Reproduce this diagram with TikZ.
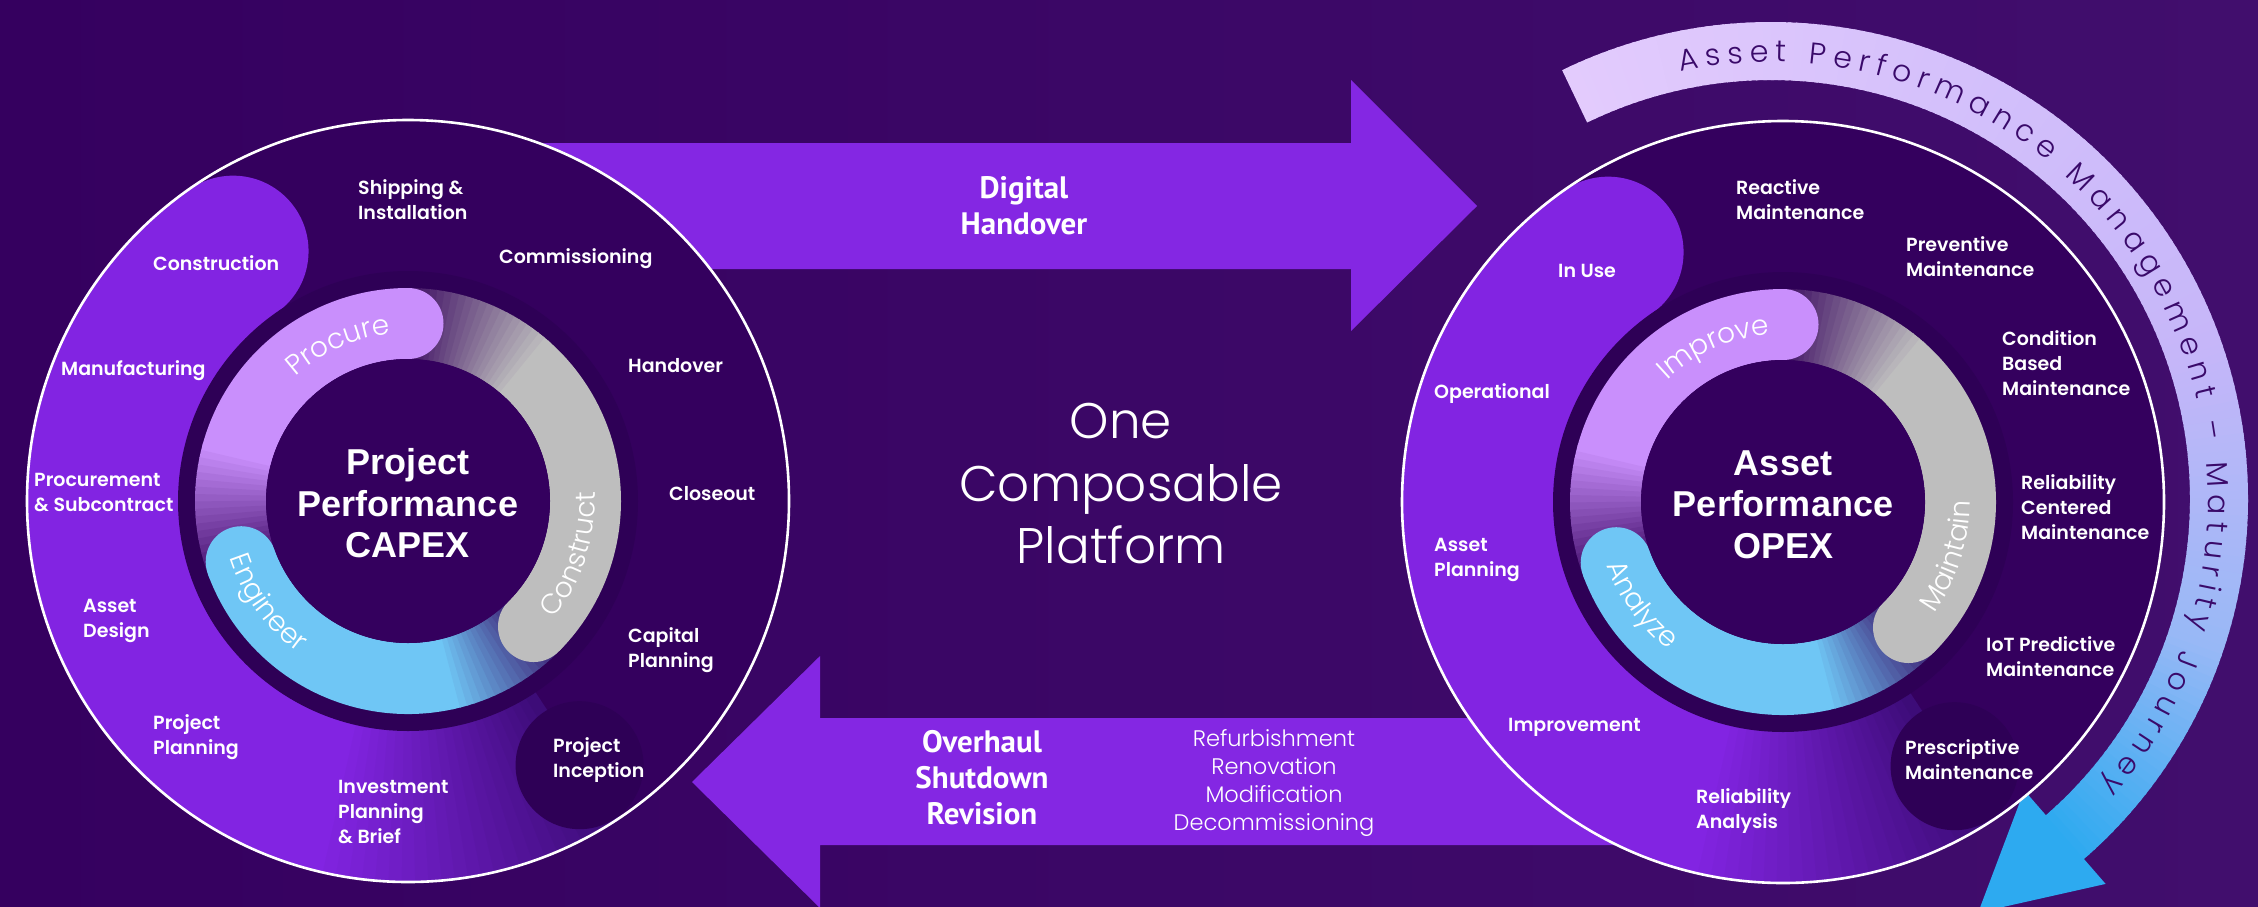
\documentclass[tikz,border=0pt]{standalone}
\usepackage{fontspec}
\usetikzlibrary{decorations.text,calc}
\newfontfamily\popfont{Poppins}
\newfontfamily\poplight{Poppins Light}
\newfontfamily\labfont{Poppins SemiBold}
\newfontfamily\titlefont{Liberation Sans}
\newfontfamily\ptfont{PT Sans}
\definecolor{bgL}{HTML}{35005F}
\definecolor{bgR}{HTML}{410E6D}
\definecolor{cin}{HTML}{34005E}
\definecolor{cband}{HTML}{8224E2}
\definecolor{cbandend}{HTML}{3D0C78}
\definecolor{cdisc}{HTML}{2E0056}
\definecolor{cshadow}{HTML}{2E0056}
\definecolor{cfade}{HTML}{34005C}
\definecolor{clav}{HTML}{C98FFC}
\definecolor{cgray}{HTML}{BEBEBE}
\definecolor{cblue}{HTML}{6FC6F5}
\definecolor{carrow}{HTML}{8427E3}
\definecolor{apmtext}{HTML}{3A0A6A}
\definecolor{apmA}{HTML}{E3CBFD}
\definecolor{apmB}{HTML}{C6B6F9}
\definecolor{apmC}{HTML}{98B8F6}
\definecolor{apmD}{HTML}{2DAAF0}
\newcommand\ringfont{\poplight\fontsize{28}{28}\selectfont\color{white}}
\newcommand\apmfont{\poplight\fontsize{30}{30}\selectfont\color{apmtext}}
\tikzset{
 lab/.style={font=\labfont\fontsize{19}{25}\selectfont, text=white, align=left, anchor=west, inner sep=0pt},
 ttl/.style={font=\titlefont\bfseries\fontsize{36}{41.5}\selectfont, text=white, align=center, inner sep=0pt},
 arrowtxt/.style={font=\ptfont\bfseries\fontsize{31}{36}\selectfont, text=white, align=center, inner sep=0pt},
 thintxt/.style={font=\poplight\fontsize{22.5}{28}\selectfont, text=white, align=center, inner sep=0pt},
 bigtxt/.style={font=\poplight\fontsize{50}{62.5}\selectfont, text=white, align=center, inner sep=0pt},
}
\newcommand\lifecycle[6]{%
\begin{scope}[shift={(#1)}]
 \fill[cin] (0,0) circle[radius=382pt];
 \draw[cband, line width=151pt] (125:305pt) arc[start angle=125, end angle=256, radius=305pt];
 \fill[cband] (125:305pt) circle[radius=75.5pt];
 \foreach \a in {255,257,...,301}{%
  \pgfmathsetmacro\pct{max(0,100-(\a-255)*100/46)}%
  \pgfmathsetmacro\aend{\a+2.6}%
  \draw[line width=151pt, color=cband!\pct!cbandend] (\a:305pt) arc[start angle=\a, end angle=\aend, radius=305pt];}
 \fill[cdisc] (303:315pt) circle[radius=64pt];
 \fill[cshadow] (0,0) circle[radius=230pt];
 \foreach \a in {164,166,...,204}{%
  \pgfmathsetmacro\pct{max(0,100-(\a-164)*2.5)}%
  \pgfmathsetmacro\aend{\a+2.6}%
  \draw[line width=71pt, color=clav!\pct!cfade] (\a:177.5pt) arc[start angle=\a, end angle=\aend, radius=177.5pt];}
 \foreach \a in {48,50,...,92}{%
  \pgfmathsetmacro\pct{max(0,100-(\a-48)*100/44)}%
  \pgfmathsetmacro\aend{\a+2.6}%
  \draw[line width=71pt, color=cgray!\pct!cfade] (\a:177.5pt) arc[start angle=\a, end angle=\aend, radius=177.5pt];}
 \foreach \a in {282,284,...,320}{%
  \pgfmathsetmacro\pct{max(0,100-(\a-282)*100/38)}%
  \pgfmathsetmacro\aend{\a+2.6}%
  \draw[line width=71pt, color=cblue!\pct!cfade] (\a:177.5pt) arc[start angle=\a, end angle=\aend, radius=177.5pt];}
 \draw[clav, line width=71pt] (90:177.5pt) arc[start angle=90, end angle=165, radius=177.5pt];
 \fill[clav] (90:177.5pt) circle[radius=35.5pt];
 \draw[cgray, line width=71pt] (-45:177.5pt) arc[start angle=-45, end angle=49, radius=177.5pt];
 \fill[cgray] (-45:177.5pt) circle[radius=35.5pt];
 \draw[cblue, line width=71pt] (200:177.5pt) arc[start angle=200, end angle=283, radius=177.5pt];
 \fill[cblue] (200:177.5pt) circle[radius=35.5pt];
 \fill[cin] (0,0) circle[radius=142pt];
 \draw[white, line width=2.6pt] (0,0) circle[radius=381pt];
 \path[decorate, decoration={text along path, text={|\ringfont|#4}, text align=center}] (154:168pt) arc[start angle=154, end angle=74, radius=168pt];
 \path[decorate, decoration={text along path, text={|\ringfont|#5}, text align=center}] (-58:187pt) arc[start angle=-58, end angle=22, radius=187pt];
 \path[decorate, decoration={text along path, text={|\ringfont|#6}, text align=center}] (176:187pt) arc[start angle=176, end angle=256, radius=187pt];
 \node[ttl] (#2) at (0,-2.5) {#3};
\end{scope}}
\begin{document}
\begin{tikzpicture}[x=1pt,y=1pt]
\useasboundingbox (0,0) rectangle (2258,-906);
\clip (0,0) rectangle (2258,-906);
\shade[left color=bgL, right color=bgR] (0,0) rectangle (2258,-906);
% big arrows
\fill[carrow] (450,-143) -- (1351,-143) -- (1351,-80) -- (1477,-206) -- (1351,-331) -- (1351,-269) -- (450,-269) -- cycle;
\fill[carrow] (1700,-718) -- (820,-718) -- (820,-656) -- (692,-782) -- (820,-908) -- (820,-845) -- (1700,-845) -- cycle;
% APM maturity arc
\begin{scope}[shift={(1771,-499)}]
 \foreach \a in {116,115,...,21}{%
  \pgfmathsetmacro\pct{(\a-20)*100/96}%
  \pgfmathsetmacro\aend{\a-1.4}%
  \draw[line width=58pt, color=apmA!\pct!apmB] (\a:448pt) arc[start angle=\a, end angle=\aend, radius=448pt];}
 \foreach \a in {20,19,...,-17}{%
  \pgfmathsetmacro\pct{(\a+18)*100/38}%
  \pgfmathsetmacro\aend{\a-1.4}%
  \draw[line width=58pt, color=apmB!\pct!apmC] (\a:448pt) arc[start angle=\a, end angle=\aend, radius=448pt];}
 \foreach \a in {-18,-19,...,-48}{%
  \pgfmathsetmacro\pct{max(0,(\a+49)*100/31)}%
  \pgfmathsetmacro\aend{\a-1.4}%
  \draw[line width=58pt, color=apmC!\pct!apmD] (\a:448pt) arc[start angle=\a, end angle=\aend, radius=448pt];}
 \coordinate (apmtip) at ($(-49:448pt)+(-139:115pt)$);
 \fill[apmD] (-49:386pt) -- (-49:510pt) -- (apmtip) -- cycle;
 \path[decorate, decoration={text along path, text={|\apmfont|Asset Performance Management – Maturity Journey}, text align={fit to path}}] (102:437pt) arc[start angle=102, end angle=-41, radius=437pt];
\end{scope}
% the two lifecycle circles
\lifecycle{408,-501}{capex}{Project\\Performance\\CAPEX}{Procure}{Construct}{Engineer}
\lifecycle{1783,-502}{opex}{Asset\\Performance\\OPEX}{Improve}{Maintain}{Analyze}
% left labels
\node[lab] (shipping) at (358,-199.5) {Shipping \&\\Installation};
\node[lab] (construction) at (153,-263) {Construction};
\node[lab] (commissioning) at (499,-259) {Commissioning};
\node[lab] (manufacturing) at (61,-371) {Manufacturing};
\node[lab] (handover) at (628,-366) {Handover};
\node[lab] (procurement) at (34,-492) {Procurement\\\& Subcontract};
\node[lab] (closeout) at (669,-494) {Closeout};
\node[lab] (assetdesign) at (83,-621) {Asset\\Design};
\node[lab] (capital) at (628,-650) {Capital\\Planning};
\node[lab] (projplan) at (153,-737) {Project\\Planning};
\node[lab] (inception) at (553,-760) {Project\\Inception};
\node[lab] (investment) at (338,-812) {Investment\\Planning\\\& Brief};
% right labels
\node[lab] (reactive) at (1736,-199.5) {Reactive\\Maintenance};
\node[lab] (preventive) at (1906,-256.5) {Preventive\\Maintenance};
\node[lab] (inuse) at (1558,-271) {In Use};
\node[lab] (condition) at (2002,-363) {Condition\\Based\\Maintenance};
\node[lab] (operational) at (1434,-394) {Operational};
\node[lab] (rcm) at (2021,-507) {Reliability\\Centered\\Maintenance};
\node[lab] (assetplan) at (1434,-559.5) {Asset\\Planning};
\node[lab] (iot) at (1986,-657) {IoT Predictive\\Maintenance};
\node[lab] (improvement) at (1508,-727) {Improvement};
\node[lab] (prescriptive) at (1905,-760) {Prescriptive\\Maintenance};
\node[lab] (relan) at (1696,-811) {Reliability\\Analysis};
% middle texts
\node[arrowtxt] (digital) at (1024,-206) {Digital\\Handover};
\node[arrowtxt] (overhaul) at (982,-778) {Overhaul\\Shutdown\\Revision};
\node[thintxt] (refurb) at (1274,-783) {Refurbishment\\Renovation\\Modification\\Decommissioning};
\node[bigtxt] (platform) at (1121,-484) {One\\Composable\\Platform};
\end{tikzpicture}
\end{document}
